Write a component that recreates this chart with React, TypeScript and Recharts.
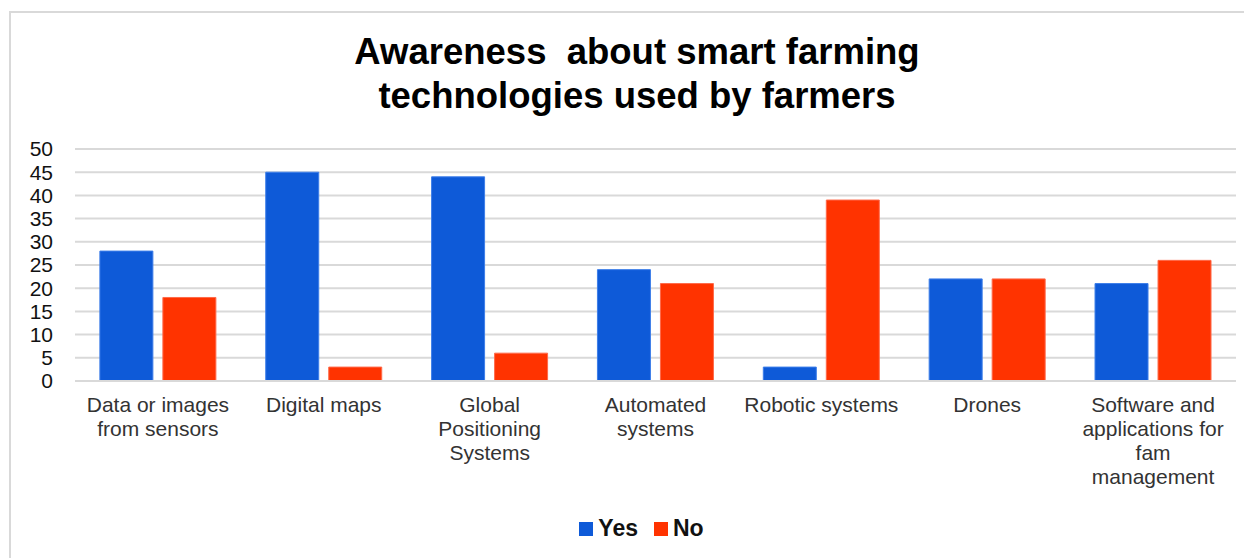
import React from 'react';
import { BarChart, Bar, XAxis, YAxis, CartesianGrid, Legend } from 'recharts';

const categories = [
  'Data or images from sensors',
  'Digital maps',
  'Global Positioning Systems',
  'Automated systems',
  'Robotic systems',
  'Drones',
  'Software and applications for fam management',
];
const tickLines: string[][] = [
  ['Data or images', 'from sensors'],
  ['Digital maps'],
  ['Global', 'Positioning', 'Systems'],
  ['Automated', 'systems'],
  ['Robotic systems'],
  ['Drones'],
  ['Software and', 'applications for', 'fam', 'management'],
];
const yesValues = [28, 45, 44, 24, 3, 22, 21];
const noValues = [18, 3, 6, 21, 39, 22, 26];
const yTicks = [0, 5, 10, 15, 20, 25, 30, 35, 40, 45, 50];

const data = categories.map((c, i) => ({ name: c, idx: i, Yes: yesValues[i], No: noValues[i] }));

const FONT = '"Liberation Sans", Arial, sans-serif';
const BLUE = '#0e5ad8';
const RED = '#ff3300';

const XTick = (props: any) => {
  const { x, y, payload } = props;
  const lines = tickLines[payload.index] || [String(payload.value)];
  return (
    <text x={x} y={y} textAnchor="middle" fill="#333" fontSize={21} fontFamily={FONT}>
      {lines.map((l, i) => (
        <tspan key={i} x={x} dy={i === 0 ? 23 : 24}>{l}</tspan>
      ))}
    </text>
  );
};

const LegendContent = () => (
  <div style={{ display: 'flex', justifyContent: 'center', alignItems: 'center', paddingLeft: 32, fontFamily: FONT, fontWeight: 'bold', fontSize: 23, color: '#111' }}>
    <span style={{ width: 14, height: 14, background: BLUE, display: 'inline-block', marginRight: 5 }} />
    <span style={{ marginRight: 16 }}>Yes</span>
    <span style={{ width: 14, height: 14, background: RED, display: 'inline-block', marginRight: 5 }} />
    <span>No</span>
  </div>
);

export default function App() {
  return (
    <div style={{ padding: '3px 0 0 1px' }}>
      <div style={{ width: 1243, height: 550, border: '2px solid #d9d9d9', boxSizing: 'border-box', position: 'relative', background: '#fff' }}>
        <div style={{ position: 'absolute', left: 0, top: 17, width: 1252, textAlign: 'center', fontFamily: FONT, fontWeight: 'bold', fontSize: 36.5, lineHeight: '44px', color: '#000' }}>
          Awareness&nbsp; about smart farming<br />technologies used by farmers
        </div>
        <div style={{ position: 'absolute', left: 0, top: 0 }}>
          <BarChart
            width={1239}
            height={546}
            data={data}
            margin={{ top: 136, right: 14, left: 4, bottom: 33 }}
            barCategoryGap="15%"
            barGap={10}
          >
            <CartesianGrid vertical={false} stroke="#d9d9d9" strokeWidth={2} />
            <XAxis
              dataKey="name"
              interval={0}
              tickLine={false}
              axisLine={{ stroke: '#d9d9d9', strokeWidth: 2 }}
              tick={<XTick />}
              height={118}
            />
            <YAxis
              domain={[0, 50]}
              ticks={yTicks}
              interval={0}
              axisLine={false}
              tickLine={false}
              width={60}
              tickMargin={16}
              tick={{ fill: '#111', fontSize: 21, fontFamily: FONT }}
            />
            <Legend verticalAlign="bottom" content={<LegendContent />} wrapperStyle={{ bottom: 17 }} />
            <Bar dataKey="Yes" fill={BLUE} stroke="#3d7ee9" strokeWidth={1} isAnimationActive={false} />
            <Bar dataKey="No" fill={RED} stroke="#ff6a4a" strokeWidth={1} isAnimationActive={false} />
          </BarChart>
        </div>
      </div>
    </div>
  );
}
